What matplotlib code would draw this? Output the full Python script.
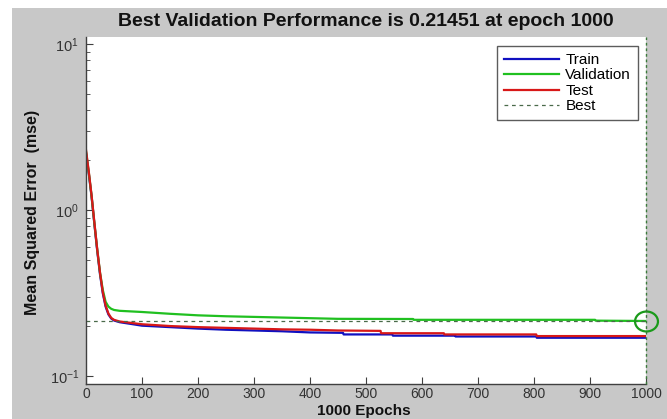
import numpy as np
import matplotlib
matplotlib.use('Agg')
from matplotlib import pyplot as plt
from matplotlib.patches import Rectangle
from matplotlib.path import Path
from matplotlib.transforms import Affine2D

plt.rcParams['font.family'] = ['Liberation Sans', 'DejaVu Sans']
plt.rcParams['mathtext.fontset'] = 'custom'
plt.rcParams['mathtext.rm'] = 'Liberation Sans'

# performance records (epoch, mse)
train_ep = [0, 5, 10, 15, 20, 25, 30, 35, 40, 45, 50, 60, 80, 100, 150, 200, 250, 300,
            350, 400, 459, 460, 547, 548, 659, 660, 804, 805, 1000]
train_mse = [2.2, 1.65, 1.2, 0.82, 0.57, 0.41, 0.315, 0.262, 0.235, 0.222, 0.216, 0.211,
             0.206, 0.201, 0.197, 0.193, 0.19, 0.188, 0.186, 0.183, 0.182, 0.178, 0.178,
             0.175, 0.175, 0.173, 0.173, 0.170, 0.170]

val_ep = [0, 5, 10, 15, 20, 25, 30, 35, 40, 45, 50, 60, 80, 100, 150, 200, 250, 300,
          350, 400, 450, 584, 585, 909, 910, 1000]
val_mse = [2.25, 1.68, 1.21, 0.83, 0.58, 0.42, 0.33, 0.28, 0.262, 0.254, 0.25, 0.247,
           0.245, 0.243, 0.237, 0.232, 0.229, 0.227, 0.225, 0.223, 0.221, 0.2205, 0.218,
           0.218, 0.2155, 0.21451]

test_ep = [0, 5, 10, 15, 20, 25, 30, 35, 40, 45, 50, 60, 80, 100, 150, 200, 250, 300,
           350, 400, 450, 526, 527, 639, 640, 804, 805, 1000]
test_mse = [2.3, 1.7, 1.22, 0.84, 0.58, 0.42, 0.32, 0.266, 0.238, 0.224, 0.218, 0.213,
            0.209, 0.205, 0.2, 0.197, 0.195, 0.193, 0.191, 0.19, 0.188, 0.187, 0.181,
            0.181, 0.178, 0.178, 0.174, 0.174]

best_epoch = 1000
best_perf = 0.21451

W, H = 667, 419
fig = plt.figure(figsize=(W / 100, H / 100), dpi=100, facecolor='white')
# grey window background with thin white strip on top/left
fig.patches.append(Rectangle((12 / W, 0), 1, 1 - 8 / H, transform=fig.transFigure,
                             facecolor='#c8c8c8', edgecolor='none', zorder=-10))

ax = fig.add_axes([86 / W, 1 - 384 / H, 560 / W, 347 / H])
ax.set_facecolor('white')

ax.plot(train_ep, train_mse, color='#1010c0', lw=1.6, label='Train')
ax.plot(val_ep, val_mse, color='#20c020', lw=1.6, label='Validation')
ax.plot(test_ep, test_mse, color='#d81818', lw=1.6, label='Test')
ax.plot([0, best_epoch], [best_perf, best_perf], color='#4a6a4a', lw=0.9,
        ls=(0, (3, 3)), label='Best')
ax.plot([best_epoch, best_epoch], [0.0895, 11.02], color='#3a7a3a', lw=1.0,
        ls=(0, (2, 2)), clip_on=False, zorder=6)

ell = Path.unit_circle().transformed(Affine2D().scale(1.15, 1.0))
ax.plot([best_epoch], [best_perf], marker=ell, ms=16.5, mfc='none', mec='#1a9a1a',
        mew=1.6, clip_on=False, zorder=5)

ax.set_yscale('log')
ax.set_xlim(0, 1000)
ax.set_ylim(0.0895, 11.02)
ax.set_xticks(np.arange(0, 1001, 100))

for s in ['top', 'right']:
    ax.spines[s].set_visible(False)
for s in ['left', 'bottom']:
    ax.spines[s].set_color('#404040')
    ax.spines[s].set_linewidth(1.0)

ax.tick_params(axis='both', which='major', direction='in', length=5, color='#404040',
               labelcolor='#333333', labelsize=10.5, pad=5)
ax.tick_params(axis='x', which='major', labelsize=10, pad=2.5)
ax.tick_params(axis='y', which='minor', direction='in', length=3, color='#404040')

fig.text(366 / W, 1 - 21 / H, 'Best Validation Performance is 0.21451 at epoch 1000',
         ha='center', va='center', fontsize=14, fontweight='bold', color='#111111')
fig.text(364 / W, 1 - 411 / H, '1000 Epochs', ha='center', va='center',
         fontsize=11, fontweight='bold', color='#111111')
fig.text(33 / W, 1 - 212 / H, 'Mean Squared Error  (mse)', ha='center', va='center',
         rotation=90, fontsize=11.5, fontweight='bold', color='#111111')

leg = ax.legend(loc='upper right', bbox_to_anchor=(0.9857, 0.974), borderaxespad=0,
                fontsize=11, frameon=True, fancybox=False, handlelength=3.6,
                handletextpad=0.4, labelspacing=0.1, borderpad=0.45)
leg.get_frame().set_edgecolor('#333333')
leg.get_frame().set_linewidth(1.0)

plt.savefig('out.png', dpi=100, facecolor=fig.get_facecolor())
